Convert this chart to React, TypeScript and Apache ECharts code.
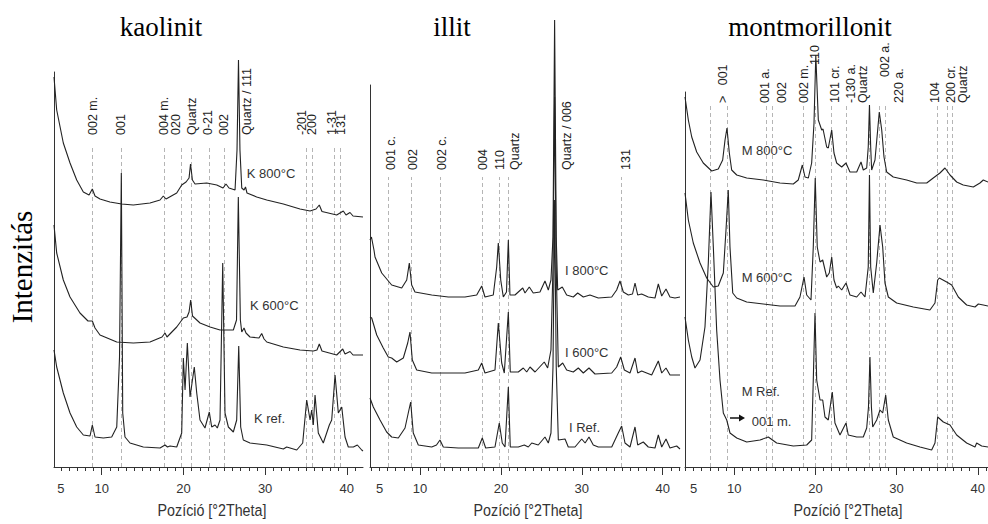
import React, { useEffect, useRef } from "react";
import * as echarts from "echarts";

// ---------- DATA (2Theta, intensity a.u.) ----------
const kaolinitK800: number[][] = [
  [4.16, 390], [4.49, 357], [5.3, 324], [6.12, 304], [6.94, 287], [7.75, 275], [8.45, 272], [8.85, 278], [9.18, 271],
  [9.79, 268], [11.0, 265], [12.45, 263], [13.87, 262], [15.91, 264], [17.14, 267], [17.54, 271], [17.87, 268],
  [19.18, 274], [19.79, 282], [20.32, 285], [20.69, 289], [20.87, 303], [21.1, 287], [21.42, 283], [22.85, 284],
  [24.08, 282], [24.85, 279], [25.21, 283], [25.58, 279], [26.32, 277], [26.56, 317], [26.74, 407], [26.92, 317],
  [27.14, 279], [27.42, 277], [27.6, 280], [27.78, 274], [28.97, 270], [30.2, 267], [32.23, 263], [34.27, 258],
  [35.5, 256], [36.23, 258], [36.63, 262], [36.96, 255.5], [38.76, 252], [39.57, 256], [39.9, 252], [40.39, 254.5],
  [40.76, 251], [41.98, 250],
];
const kaolinitK600: number[][] = [
  [4.16, 242], [4.49, 214], [5.3, 187], [6.12, 170], [7.34, 154], [8.32, 146], [8.85, 146], [9.18, 139], [9.79, 132],
  [11.84, 125], [13.87, 124], [15.91, 125], [17.38, 130], [17.75, 134], [17.99, 130], [19.18, 140], [19.99, 149],
  [20.44, 150], [20.69, 155], [20.89, 167], [21.11, 151], [22.03, 144], [23.26, 140], [24.48, 137], [26.11, 137],
  [26.5, 147], [26.72, 270], [26.97, 147], [27.14, 135], [27.42, 139], [27.66, 134], [28.15, 130], [29.25, 129],
  [29.58, 133.5], [29.87, 128], [30.2, 125], [32.23, 120], [34.27, 117], [35.9, 116], [36.35, 117], [36.63, 123],
  [36.96, 116], [38.76, 112], [39.5, 118], [39.78, 113], [40.39, 115.5], [40.76, 112], [41.98, 112],
];
const kaolinitRef: number[][] = [
  [4.16, 117], [4.49, 100], [5.3, 74], [6.12, 54], [6.94, 40], [7.75, 32], [8.57, 31], [8.85, 42], [9.18, 30],
  [10.2, 29], [11.22, 30], [11.84, 40], [12.18, 110], [12.4, 294], [12.57, 54], [12.85, 30], [13.46, 24],
  [15.09, 20], [17.14, 19], [17.75, 22], [18.05, 20], [18.36, 21], [19.18, 20], [19.79, 34], [19.99, 109],
  [20.2, 77], [20.48, 124], [20.81, 70], [21.33, 100], [21.63, 74], [22.03, 47], [22.64, 39], [23.17, 55],
  [23.46, 40], [23.87, 42], [24.15, 39], [24.48, 47], [24.81, 204], [25.09, 54], [25.5, 40], [26.11, 35],
  [26.52, 47], [26.77, 121], [27.01, 40], [27.33, 27], [28.15, 24], [30.2, 22], [32.23, 18], [32.64, 20],
  [33.87, 17], [34.6, 24], [35.09, 67], [35.5, 47], [35.7, 57], [35.9, 42], [36.11, 72], [36.51, 34], [37.12, 24],
  [37.86, 42], [38.15, 47], [38.56, 92], [38.96, 54], [39.38, 60], [39.78, 30], [40.18, 20], [40.8, 20],
  [41.29, 22], [41.82, 17], [41.98, 16],
];

const illitI800: number[][] = [
  [3.82, 227], [4.0, 230], [4.31, 217], [4.44, 210], [5.27, 194], [6.5, 182], [7.74, 179], [8.36, 187], [8.68, 204],
  [8.97, 182], [9.38, 175], [11.45, 172], [13.5, 170], [15.56, 170], [17.01, 172], [17.63, 181], [18.03, 170],
  [19.06, 172], [19.48, 200], [19.68, 224], [19.98, 187], [20.3, 170], [20.69, 175], [20.92, 227], [21.12, 172],
  [21.74, 172], [22.7, 179], [22.98, 174], [23.51, 180], [24.0, 174], [24.83, 175], [25.45, 186], [25.86, 177],
  [26.19, 187], [26.44, 230], [26.64, 447], [26.84, 230], [27.02, 177], [27.59, 180], [28.13, 172], [28.95, 170],
  [29.49, 174], [30.19, 170], [31.01, 172], [32.04, 169], [33.7, 170], [34.31, 177], [34.72, 186], [35.13, 175],
  [35.75, 172], [36.27, 173], [36.58, 184], [36.91, 172], [37.4, 173], [38.22, 170], [39.05, 169], [39.46, 183],
  [39.88, 171], [40.41, 178], [40.9, 170], [41.52, 169], [42.14, 170],
];
const illitI600: number[][] = [
  [3.82, 150], [4.03, 149], [4.65, 132], [5.46, 119], [6.08, 110], [6.5, 109], [7.12, 105], [7.94, 109], [8.48, 124],
  [8.76, 135], [9.05, 107], [9.59, 97], [11.45, 94], [13.5, 94], [15.56, 94], [17.21, 97], [17.63, 104], [18.03, 94],
  [19.27, 97], [19.68, 144], [20.1, 104], [20.42, 94], [20.92, 155], [21.16, 95], [22.15, 95], [22.77, 99],
  [23.19, 95], [23.6, 100], [24.22, 95], [25.36, 105], [25.78, 99], [26.19, 117], [26.44, 200], [26.64, 370],
  [26.84, 200], [27.1, 100], [27.64, 104], [28.13, 97], [28.95, 95], [29.57, 99], [30.19, 94], [30.89, 99],
  [31.63, 93], [33.7, 94], [34.31, 100], [34.81, 110], [35.26, 97], [35.96, 94], [36.58, 109], [36.91, 94],
  [37.4, 96], [38.64, 92], [39.46, 106], [39.88, 94], [40.41, 99], [40.9, 92], [42.14, 92],
];
const illitRef: number[][] = [
  [3.82, 69], [4.23, 60], [5.06, 47], [5.88, 35], [6.5, 30], [7.32, 29], [8.15, 39], [8.55, 54], [8.85, 65],
  [9.17, 34], [9.79, 22], [11.45, 20], [12.04, 22], [12.47, 27], [12.88, 20], [14.73, 19], [17.21, 19], [17.7, 29],
  [18.12, 19], [19.27, 20], [19.8, 44], [20.17, 24], [20.51, 20], [20.92, 80], [21.16, 20], [22.15, 20],
  [22.89, 22], [23.39, 20], [23.81, 24], [24.62, 22], [25.45, 30], [25.86, 24], [26.19, 34], [26.44, 100],
  [26.64, 267], [26.84, 100], [27.1, 27], [27.93, 28], [28.33, 20], [29.16, 20], [29.99, 28], [30.41, 24],
  [30.89, 30], [31.42, 22], [32.04, 20], [33.7, 20], [34.51, 34], [34.93, 41], [35.34, 24], [35.96, 20],
  [36.58, 40], [36.91, 22], [37.6, 25], [38.22, 20], [39.05, 19], [39.46, 32], [39.88, 20], [40.41, 28],
  [40.9, 19], [41.73, 21], [42.14, 18],
];

const montM800: number[][] = [
  [3.94, 370], [4.35, 347], [4.77, 330], [5.38, 315], [6.19, 304], [7.23, 296], [8.04, 298], [8.58, 307],
  [8.87, 327], [9.11, 339], [9.4, 314], [9.69, 297], [10.31, 292], [11.54, 289], [13.58, 287], [15.64, 284],
  [17.28, 283], [17.89, 287], [18.39, 302], [18.72, 290], [19.13, 289], [19.54, 304], [19.83, 344], [20.05, 412],
  [20.36, 347], [20.78, 337], [20.94, 338], [21.39, 320], [21.59, 319], [22.01, 337], [22.29, 314], [22.62, 304],
  [23.24, 300], [23.77, 304], [24.26, 295], [25.09, 295], [25.62, 305], [25.9, 297], [26.32, 299], [26.51, 320],
  [26.66, 362], [26.81, 320], [26.93, 297], [27.34, 307], [27.87, 355], [28.17, 337], [28.45, 310], [28.78, 295],
  [29.59, 290], [31.24, 287], [32.48, 284], [33.71, 284], [34.52, 289], [35.34, 294], [35.96, 299], [36.58, 292],
  [37.4, 285], [38.21, 282], [39.45, 280], [40.27, 284], [40.68, 287], [41.26, 285],
];
const montM600: number[][] = [
  [3.94, 274], [4.35, 247], [4.96, 224], [5.79, 204], [6.61, 189], [7.43, 180], [8.04, 181], [8.66, 194],
  [8.99, 237], [9.27, 277], [9.48, 220], [9.82, 174], [10.31, 169], [11.54, 165], [13.58, 163], [15.64, 161],
  [17.49, 161], [18.1, 170], [18.6, 190], [18.93, 172], [19.46, 167], [19.74, 220], [19.98, 289], [20.23, 220],
  [20.57, 205], [20.9, 207], [21.39, 190], [21.71, 194], [22.01, 210], [22.29, 187], [22.62, 179], [22.82, 181],
  [23.24, 177], [23.77, 184], [24.26, 172], [25.09, 170], [25.62, 175], [26.11, 170], [26.51, 200], [26.66, 292],
  [26.81, 200], [27.13, 174], [27.55, 204], [27.96, 242], [28.29, 220], [28.57, 184], [28.98, 170], [30.01, 164],
  [32.06, 160], [34.11, 157], [34.73, 164], [35.06, 187], [35.26, 189], [36.17, 185], [36.79, 182], [37.6, 170],
  [38.63, 162], [39.66, 160], [40.07, 163], [40.68, 162], [41.26, 161],
];
const montRef: number[][] = [
  [3.94, 150], [4.35, 127], [4.77, 110], [5.17, 99], [5.79, 107], [6.4, 140], [6.81, 204], [7.14, 275], [7.43, 220],
  [7.84, 137], [8.25, 87], [8.66, 54], [9.08, 47], [9.48, 34], [10.31, 29], [11.54, 25], [13.18, 27], [14.2, 30],
  [15.23, 24], [17.28, 21], [18.93, 22], [19.54, 27], [19.74, 87], [19.95, 154], [20.16, 87], [20.57, 67],
  [20.9, 67], [21.18, 50], [21.59, 47], [22.08, 75], [22.41, 44], [23.03, 32], [23.77, 44], [24.05, 32],
  [25.09, 30], [25.9, 30], [26.32, 39], [26.54, 60], [26.72, 110], [26.9, 60], [27.06, 40], [27.55, 47],
  [27.96, 57], [28.29, 54], [28.66, 72], [28.98, 47], [29.59, 30], [31.24, 24], [32.88, 20], [34.32, 17],
  [34.73, 24], [35.06, 50], [35.76, 45], [36.58, 42], [37.4, 32], [38.63, 24], [39.66, 20], [39.86, 24],
  [40.48, 21], [41.26, 20],
];

// reflection markers (2Theta)
const kaolinitLines = [8.85, 12.45, 17.6, 19.7, 20.9, 23.2, 25.0, 35.0, 35.8, 38.4, 39.2];
const illitLines = [6.08, 8.97, 12.47, 17.7, 19.8, 20.9, 34.85];
const montLines = [7.1, 9.2, 13.9, 14.7, 18.5, 19.95, 21.9, 23.85, 26.6, 27.9, 28.6, 35.06, 36.2, 36.8];

const kaolinitLabels = ["002 m.", "001", "004 m.", "020", "Quartz", "0-21", "002", "Quartz / 111", "-201", "200", "1-31", "131"];
const kaolinitLabelAt = [8.97, 12.36, 17.63, 19.09, 21.02, 23.05, 25.0, 27.75, 34.55, 35.78, 38.15, 39.29];
const illitLabels = ["001 c.", "002", "002 c.", "004", "110", "Quartz", "Quartz / 006", "131"];
const illitLabelAt = [6.42, 9.17, 12.76, 17.82, 19.89, 21.74, 28.13, 35.43];
const montLabels = [">\u00a0\u00a0\u00a0001", "001 a.", "002", "002 m.", "110", "101 cr.", "-130 a.", "Quartz", "002 a.", "220 a.", "104", "200 cr.", "Quartz"];
const montLabelAt = [8.58, 13.79, 15.85, 18.6, 19.95, 22.41, 24.35, 25.9, 28.57, 30.33, 34.73, 36.66, 38.21];
const montLabelBase = [364, 364, 364, 364, 402, 364, 364, 364, 390, 364, 364, 364, 364];

const sampleNames = [
  ["K 800°C", "K 600°C", "K ref."],
  ["I 800°C", "I 600°C", "I Ref."],
  ["M 800°C", "M 600°C", "M Ref."],
];
const sampleNameAt = [
  [[27.75, 294], [28.15, 162], [28.64, 49]],
  [[27.92, 197], [27.92, 115], [28.42, 40]],
  [[10.92, 317], [10.92, 190], [10.92, 76]],
];

const panelTitles = ["kaolinit", "illit", "montmorillonit"];
const xTickLabels = [5, 10, 20, 30, 40];
const xMajorTicks = [10, 20, 30, 40];
const xMinorTicks = [4, 5, 6, 7, 8, 9, 11, 12, 13, 14, 15, 16, 17, 18, 19, 21, 22, 23, 24, 25, 26, 27, 28, 29, 31, 32, 33, 34, 35, 36, 37, 38, 39, 41, 42];

// ---------- LAYOUT ----------
const grids = [
  { left: 54, top: 72, width: 309, height: 395 },
  { left: 370, top: 85, width: 310, height: 382 },
  { left: 685, top: 92, width: 303, height: 375 },
];
const xRanges = [[4.16, 41.98], [3.82, 42.14], [3.94, 41.26]];
const dashTop = [320, 290, 362];
const labelBase = [332, 297];

const SANS = "'Liberation Sans', Arial, Helvetica, sans-serif";
const SERIF = "'Liberation Serif', 'Times New Roman', serif";
const INK = "#222";

export default function App() {
  const ref = useRef<HTMLDivElement>(null);
  useEffect(() => {
    if (!ref.current) return;
    const chart = echarts.init(ref.current, undefined, { renderer: "svg" });
    const traces = [
      [kaolinitK800, kaolinitK600, kaolinitRef],
      [illitI800, illitI600, illitRef],
      [montM800, montM600, montRef],
    ];
    const lines = [kaolinitLines, illitLines, montLines];
    const xAxis: any[] = [];
    const yAxis: any[] = [];
    const series: any[] = [];
    grids.forEach((g, i) => {
      const [mn, mx] = xRanges[i];
      xAxis.push({
        gridIndex: i, type: "value", min: mn, max: mx, position: "bottom",
        axisLine: { show: true, onZero: false, lineStyle: { color: "#333", width: 1 } },
        axisTick: { show: true, customValues: xMajorTicks, length: 8, lineStyle: { color: "#333" } },
        axisLabel: { show: true, customValues: xTickLabels, margin: 15, fontSize: 13, color: "#333", fontFamily: SANS },
        splitLine: { show: false },
      });
      xAxis.push({
        gridIndex: i, type: "value", min: mn, max: mx, position: "bottom",
        axisLine: { show: false, onZero: false },
        axisTick: { show: true, customValues: xMinorTicks.filter((v) => v > mn && v < mx), length: 4, lineStyle: { color: "#333" } },
        axisLabel: { show: false },
        splitLine: { show: false },
      });
      yAxis.push({
        gridIndex: i, type: "value", min: 0, max: g.height,
        axisLine: { show: true, onZero: false, lineStyle: { color: "#333", width: 1 } },
        axisTick: { show: false }, axisLabel: { show: false }, splitLine: { show: false },
      });
      series.push({
        type: "line", xAxisIndex: i * 2, yAxisIndex: i, data: [], z: 1, silent: true,
        markLine: {
          silent: true, symbol: ["none", "none"], z: 1, label: { show: false },
          lineStyle: { color: "#b5b5b5", type: [4, 3], width: 1 },
          data: lines[i].map((t) => [{ coord: [t, 0] }, { coord: [t, dashTop[i]] }]),
        },
      });
      traces[i].forEach((d) => {
        series.push({
          type: "line", xAxisIndex: i * 2, yAxisIndex: i, data: d, showSymbol: false, symbol: "none",
          clip: false, z: 3, silent: true, lineStyle: { color: INK, width: 1.1 },
        });
      });
    });
    chart.setOption({
      animation: false,
      grid: grids.map((g) => ({ ...g, containLabel: false })),
      xAxis, yAxis, series,
    });

    const px = (p: number, x: number, y: number) => chart.convertToPixel({ seriesIndex: p * 4 + 1 }, [x, y]) as number[];
    const graphic: any[] = [];
    const vlabel = (p: number, text: string, x: number, y: number) => {
      const [a, b] = px(p, x, y);
      graphic.push({
        type: "text", x: a, y: b, rotation: Math.PI / 2, silent: true,
        style: { text, font: `12.5px ${SANS}`, fill: INK, align: "left", verticalAlign: "middle" },
      });
    };
    kaolinitLabels.forEach((t, k) => vlabel(0, t, kaolinitLabelAt[k], labelBase[0]));
    illitLabels.forEach((t, k) => vlabel(1, t, illitLabelAt[k], labelBase[1]));
    montLabels.forEach((t, k) => vlabel(2, t, montLabelAt[k], montLabelBase[k]));
    sampleNames.forEach((names, p) =>
      names.forEach((t, k) => {
        const [a, b] = px(p, sampleNameAt[p][k][0], sampleNameAt[p][k][1]);
        graphic.push({
          type: "text", x: a, y: b, silent: true,
          style: { text: t, font: `13px ${SANS}`, fill: "#333", align: "left", verticalAlign: "middle" },
        });
      })
    );
    // arrow + "001 m."
    const [ax0, ay] = px(2, 9.48, 49);
    const [ax1] = px(2, 11.33, 49);
    graphic.push({ type: "line", silent: true, shape: { x1: ax0, y1: ay, x2: ax1 - 5, y2: ay }, style: { stroke: "#111", lineWidth: 1.5 } });
    graphic.push({ type: "polygon", silent: true, shape: { points: [[ax1 - 6, ay - 3.5], [ax1, ay], [ax1 - 6, ay + 3.5]] }, style: { fill: "#111" } });
    const [tx, ty] = px(2, 12.16, 46);
    graphic.push({ type: "text", x: tx, y: ty, silent: true, style: { text: "001 m.", font: `13px ${SANS}`, fill: "#333", align: "left", verticalAlign: "middle" } });

    // titles
    const titleX = [161, 452, 810];
    panelTitles.forEach((t, i) =>
      graphic.push({ type: "text", x: titleX[i], y: 27, silent: true, style: { text: t, font: `27px ${SERIF}`, fill: "#000", align: "center", verticalAlign: "middle" } })
    );
    graphic.push({ type: "text", x: 22, y: 267, rotation: Math.PI / 2, silent: true, style: { text: "Intenzitás", font: `29px ${SERIF}`, fill: "#000", align: "center", verticalAlign: "middle" } });
    const axTitleX = [212, 528, 848];
    axTitleX.forEach((x) =>
      graphic.push({ type: "text", x, y: 510, scaleX: 0.84, silent: true, style: { text: "Pozíció [°2Theta]", font: `17px ${SANS}`, fill: "#333", align: "center", verticalAlign: "middle" } })
    );
    chart.setOption({ graphic });
    return () => chart.dispose();
  }, []);
  return <div ref={ref} style={{ position: "fixed", left: 0, top: 0, width: 988, height: 524, background: "#fff" }} />;
}
